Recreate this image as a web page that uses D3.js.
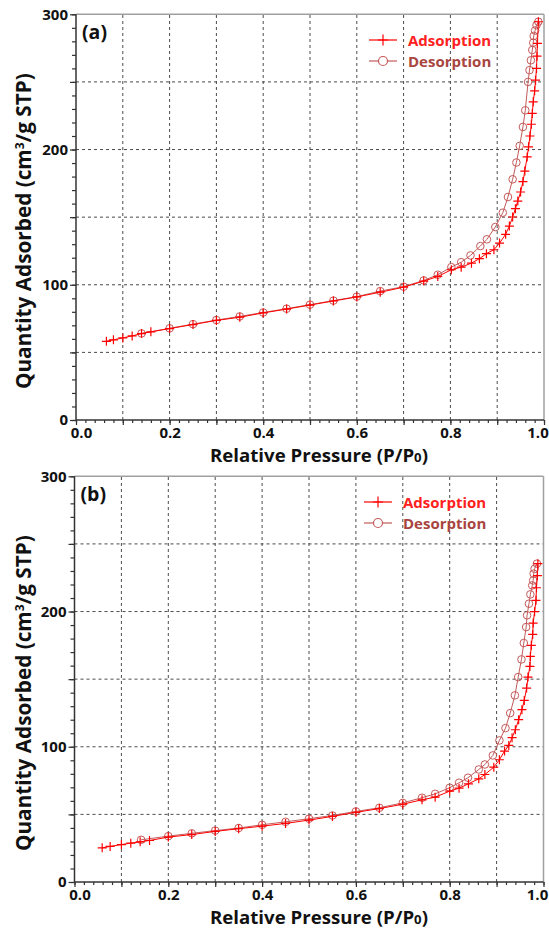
<!DOCTYPE html>
<html><head><meta charset="utf-8">
<script src="https://cdn.jsdelivr.net/npm/d3@7/dist/d3.min.js"></script>
<style>body{margin:0;background:#fff}svg{display:block}</style></head>
<body>
<svg id="chart" width="549" height="929"></svg>
<script>
// ---------- data ----------
const xMajorTicks = [0, 0.2, 0.4, 0.6, 0.8, 1.0];
const yMajorTicks = [0, 100, 200, 300];
const panelLabels = ["(a)", "(b)"];
const seriesNames = ["Adsorption", "Desorption"];
const xTitle = "Relative Pressure (P/P";
const xTitleSub = "0";
const yTitleParts = ["Quantity Adsorbed (cm", "3", "/g STP)"];

// panel (a)
const adsA_x = [0.065,0.08,0.10,0.12,0.14,0.16,0.20,0.25,0.30,0.35,0.40,0.45,0.50,0.55,0.60,0.65,0.70,0.743,0.773,0.802,0.823,0.845,0.862,0.877,0.893,0.905,0.918,0.926,0.933,0.939,0.944,0.950,0.955,0.959,0.964,0.967,0.970,0.973,0.975,0.977,0.980,0.982,0.984,0.985,0.986,0.988];
const adsA_y = [58.2,59.3,60.7,62.2,63.9,65.2,67.6,70.6,73.6,76.0,79.2,82.0,85.0,88.0,91.0,94.5,98.2,102.7,106.1,111.1,113.0,116.0,119.3,123.0,125.9,130.8,137.3,143.4,150.1,156.3,161.9,168.6,176.3,184.1,194.5,202.0,210.0,218.7,226.7,235.3,243.4,251.3,260.0,269.0,278.5,294.5];
const desA_x = [0.14,0.20,0.25,0.30,0.35,0.40,0.45,0.50,0.55,0.60,0.65,0.70,0.743,0.773,0.802,0.823,0.843,0.864,0.878,0.896,0.912,0.923,0.933,0.941,0.948,0.955,0.960,0.966,0.969,0.972,0.975,0.977,0.978,0.981,0.984,0.988];
const desA_y = [64.0,67.8,70.9,73.9,76.6,79.5,82.3,85.3,88.3,91.2,95.3,98.6,103.2,107.4,113.0,116.7,121.7,128.6,133.6,142.7,153.3,164.9,178.0,190.4,202.7,216.7,229.0,250.0,258.7,266.0,273.6,279.0,284.0,288.0,292.0,294.5];

// panel (b)
const adsB_x = [0.059,0.076,0.10,0.12,0.14,0.16,0.20,0.25,0.30,0.35,0.40,0.45,0.50,0.55,0.60,0.65,0.70,0.741,0.769,0.800,0.820,0.840,0.862,0.875,0.894,0.906,0.917,0.926,0.933,0.940,0.947,0.954,0.959,0.964,0.967,0.971,0.972,0.974,0.977,0.978,0.981,0.984,0.985,0.987,0.988];
const adsB_y = [25.3,26.3,27.7,28.7,29.7,30.7,33.2,35.1,37.4,39.4,41.3,43.3,45.8,48.5,51.5,54.3,57.5,60.8,62.7,67.2,69.4,72.6,76.3,79.5,84.9,90.4,96.8,101.0,106.7,112.6,120.0,127.4,134.3,143.4,151.5,159.4,166.8,175.0,183.1,191.5,199.9,208.3,217.6,226.5,235.4];
const desB_x = [0.142,0.20,0.25,0.30,0.35,0.40,0.45,0.50,0.55,0.60,0.65,0.70,0.741,0.769,0.800,0.820,0.839,0.862,0.875,0.892,0.906,0.919,0.929,0.939,0.946,0.953,0.958,0.963,0.965,0.969,0.972,0.976,0.978,0.979,0.981,0.986];
const desB_y = [31.2,33.9,36.0,38.0,39.9,42.3,44.5,46.8,49.2,52.2,54.9,58.5,62.3,65.2,69.7,73.4,77.1,83.2,86.9,93.6,104.7,113.8,124.9,138.0,151.5,164.6,176.7,188.5,197.2,205.8,212.7,219.3,223.0,228.0,231.6,235.4];

// ---------- drawing ----------
const FONT = "'Open Sans', 'Noto Sans', sans-serif";
const ADS_COLOR = "#ff0000";
const DES_COLOR = "#c45a5a";
const DES_TEXT = "#a8453f";
const svg = d3.select("#chart");

const panels = [
  {label: panelLabels[0], ads: [adsA_x, adsA_y], des: [desA_x, desA_y],
   x0: 76, x1: 544, yb: 420, yt: 14.3, legX: 369, legY: 40},
  {label: panelLabels[1], ads: [adsB_x, adsB_y], des: [desB_x, desB_y],
   x0: 74.5, x1: 543.5, yb: 882, yt: 476.3, legX: 364, legY: 502}
];

const plusPath = "M-4.5,0H4.5M0,-4.5V4.5";

panels.forEach(p => {
  const g = svg.append("g");
  const x = d3.scaleLinear().domain([0, 1]).range([p.x0, p.x1]);
  const y = d3.scaleLinear().domain([0, 300]).range([p.yb, p.yt]);

  // grid
  const gx = d3.range(1, 10).map(i => i / 10);
  const gy = d3.range(50, 300, 50);
  g.append("g").selectAll("line").data(gx).join("line")
    .attr("x1", d => x(d)).attr("x2", d => x(d))
    .attr("y1", y(0)).attr("y2", y(300))
    .attr("stroke", "#4a4a4a").attr("stroke-width", 1).attr("stroke-dasharray", "3,3");
  g.append("g").selectAll("line").data(gy).join("line")
    .attr("y1", d => y(d)).attr("y2", d => y(d))
    .attr("x1", x(0)).attr("x2", x(1))
    .attr("stroke", "#4a4a4a").attr("stroke-width", 1).attr("stroke-dasharray", "3,3");

  // frame (top and right)
  g.append("line").attr("x1", x(0)).attr("x2", x(1)).attr("y1", y(300)).attr("y2", y(300))
    .attr("stroke", "#a0a0a0").attr("stroke-width", 1.5);
  g.append("line").attr("x1", x(1)).attr("x2", x(1)).attr("y1", y(0)).attr("y2", y(300))
    .attr("stroke", "#a0a0a0").attr("stroke-width", 1.5);

  const yMinor = d3.axisLeft(y).tickValues(d3.range(0, 301, 10)).tickSize(4).tickFormat("");
  const yMajor = d3.axisLeft(y).tickValues(d3.range(0, 301, 50)).tickSize(6).tickPadding(2)
    .tickFormat(d => yMajorTicks.includes(d) ? d : "");
  const xMinor = d3.axisBottom(x).tickValues(d3.range(0, 51).map(i => i / 50)).tickSize(3).tickFormat("");
  const xMajor = d3.axisBottom(x).tickValues(d3.range(0, 11).map(i => i / 10)).tickSize(5).tickPadding(2)
    .tickFormat(d => xMajorTicks.some(t => Math.abs(t - d) < 1e-9) ? d3.format(".1f")(d) : "");

  [yMinor, yMajor].forEach(ax => {
    const a = g.append("g").attr("transform", `translate(${x(0)},0)`).call(ax);
    a.select(".domain").remove();
    a.selectAll(".tick line").attr("stroke", "#333").attr("stroke-width", 1.2);
    a.selectAll("text").attr("font-family", FONT).attr("font-weight", "bold")
      .attr("font-size", 15).attr("fill", "#111");
  });
  [xMinor, xMajor].forEach(ax => {
    const a = g.append("g").attr("transform", `translate(0,${y(0)})`).call(ax);
    a.select(".domain").remove();
    a.selectAll(".tick line").attr("stroke", "#333").attr("stroke-width", 1.2);
    a.selectAll("text").attr("font-family", FONT).attr("font-weight", "bold")
      .attr("font-size", 15).attr("fill", "#111")
      .attr("dx", d => d === 0 ? 5 : (d === 1 ? -6.5 : 0));
  });
  g.append("line").attr("x1", x(0)).attr("x2", x(0)).attr("y1", y(0)).attr("y2", y(300))
    .attr("stroke", "#333").attr("stroke-width", 1.5);
  g.append("line").attr("x1", x(0)).attr("x2", x(1)).attr("y1", y(0)).attr("y2", y(0))
    .attr("stroke", "#333").attr("stroke-width", 1.5);

  // data
  const ads = p.ads[0].map((v, i) => [v, p.ads[1][i]]);
  const des = p.des[0].map((v, i) => [v, p.des[1][i]]);
  const line = d3.line().x(d => x(d[0])).y(d => y(d[1]));

  g.append("path").datum(des).attr("d", line).attr("fill", "none")
    .attr("stroke", DES_COLOR).attr("stroke-width", 1);
  g.append("g").selectAll("circle").data(des).join("circle")
    .attr("cx", d => x(d[0])).attr("cy", d => y(d[1])).attr("r", 3.8)
    .attr("fill", "none").attr("stroke", DES_COLOR).attr("stroke-width", 1);

  g.append("path").datum(ads).attr("d", line).attr("fill", "none")
    .attr("stroke", ADS_COLOR).attr("stroke-width", 1);
  g.append("g").selectAll("path").data(ads).join("path")
    .attr("transform", d => `translate(${x(d[0])},${y(d[1])})`)
    .attr("d", plusPath).attr("stroke", ADS_COLOR).attr("stroke-width", 1.2);

  // panel label
  g.append("text").attr("x", x(0) + 6).attr("y", y(300) + 25)
    .attr("font-family", FONT).attr("font-weight", "bold").attr("font-size", 19.5)
    .attr("fill", "#111").text(p.label);

  // legend
  const lg = g.append("g").attr("transform", `translate(${p.legX},${p.legY})`);
  lg.append("line").attr("x1", 0).attr("x2", 28).attr("y1", 0).attr("y2", 0)
    .attr("stroke", ADS_COLOR).attr("stroke-width", 1.2);
  lg.append("path").attr("transform", "translate(14,0)").attr("d", "M-5,0H5M0,-5.5V5.5")
    .attr("stroke", ADS_COLOR).attr("stroke-width", 1.2);
  lg.append("text").attr("x", 39).attr("y", 5.5).attr("font-family", FONT)
    .attr("font-weight", "bold").attr("font-size", 15).attr("fill", "#ff2020").text(seriesNames[0]);
  lg.append("line").attr("x1", 0).attr("x2", 28).attr("y1", 21).attr("y2", 21)
    .attr("stroke", DES_COLOR).attr("stroke-width", 1.2);
  lg.append("circle").attr("cx", 14).attr("cy", 21).attr("r", 4.5).attr("fill", "#fff")
    .attr("stroke", DES_COLOR).attr("stroke-width", 1.2);
  lg.append("text").attr("x", 39).attr("y", 26.5).attr("font-family", FONT)
    .attr("font-weight", "bold").attr("font-size", 15).attr("fill", DES_TEXT).text(seriesNames[1]);

  // x title
  const xt = g.append("text").attr("x", 319).attr("y", y(0) + 42).attr("text-anchor", "middle")
    .attr("font-family", FONT).attr("font-weight", "bold").attr("font-size", 17).attr("fill", "#111");
  xt.append("tspan").text(xTitle);
  xt.append("tspan").attr("font-size", 12).text(xTitleSub);
  xt.append("tspan").text(")");
  const xl = xt.node().getComputedTextLength();
  if (xl > 0) {
    const k = 218 / xl;
    xt.attr("font-size", 17 * k);
    xt.selectAll("tspan").filter((d, i) => i === 1).attr("font-size", 12 * k);
  }

  // y title
  const cy = (y(0) + y(300)) / 2 + 14;
  const yt = g.append("text").attr("transform", `translate(31,${cy}) rotate(-90)`)
    .attr("text-anchor", "middle").attr("font-family", FONT).attr("font-weight", "bold")
    .attr("font-size", 18).attr("fill", "#111");
  yt.append("tspan").text(yTitleParts[0]);
  yt.append("tspan").attr("font-size", 12).attr("dy", -7).text(yTitleParts[1]);
  yt.append("tspan").attr("dy", 7).text(yTitleParts[2]);
  const len = yt.node().getComputedTextLength();
  if (len > 0) yt.attr("font-size", 18 * 317 / len);
});
</script>
</body></html>
